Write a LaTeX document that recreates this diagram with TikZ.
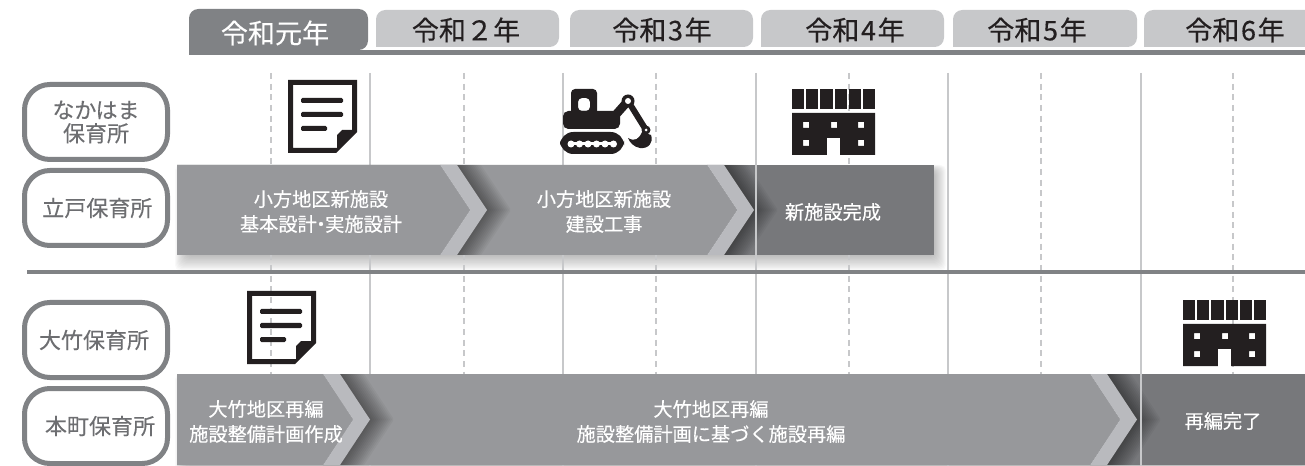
\documentclass[tikz,border=0pt]{standalone}
\usepackage{fontspec}
\setmainfont[FakeBold=0.25]{Noto Sans CJK JP}
\usetikzlibrary{positioning}
\definecolor{bandgray}{HTML}{808285}
\definecolor{tabgray}{HTML}{C7C8CA}
\definecolor{bargray}{HTML}{97989B}
\definecolor{headgray}{HTML}{B9BABE}
\definecolor{endgray}{HTML}{77787B}
\definecolor{labelgray}{HTML}{6D6E71}
\definecolor{icondark}{HTML}{231F20}
\newcommand{\barhead}[3]{%
    \begin{scope}
        \clip (#1,#2) rectangle (#1+70,#3);
        \foreach \i in {1,...,12}
            \fill[black,opacity=.04] (#1,#2) -- (#1+17+2*\i,#2) -- (#1+47+2*\i,{(#2+#3)/2}) -- (#1+17+2*\i,#3) -- (#1,#3) -- cycle;
    \end{scope}
    \fill[bargray] (177,#2) -- (#1,#2) -- (#1+30,{(#2+#3)/2}) -- (#1,#3) -- (177,#3) -- cycle;
    \fill[headgray] (#1,#2) -- (#1+17,#2) -- (#1+47,{(#2+#3)/2}) -- (#1+17,#3) -- (#1,#3) -- (#1+30,{(#2+#3)/2}) -- cycle;
}
\newcommand{\barshadow}[4]{%
    \foreach \i in {1,...,12}
        \fill[black,opacity=.022,rounded corners=4pt] (#1+10-\i,#2+6-\i/2) rectangle (#3+\i,#4+1.3*\i);
}
\tikzset{
    yeartab/.style={font=\fontsize{20.3}{24}\selectfont,text=icondark,inner sep=0pt},
    sitebox/.style={draw=bandgray,line width=3.75pt,rounded corners=19pt,fill=white,
        minimum width=107.25pt,minimum height=56.25pt,inner sep=0pt,align=center,
        text=labelgray,font=\fontsize{16.5}{17.5}\selectfont},
    bartext/.style={text=white,inner sep=0pt,align=center,font=\fontsize{14.4}{18.75}\selectfont},
    pics/docicon/.style={code={
        \fill[icondark,even odd rule] (0,0) -- (69,0) -- (69,52) -- (48,73) -- (0,73) -- cycle
            (5,5) -- (64,5) -- (64,50) -- (54,50) -- (49,55) -- (49,68) -- (5,68) -- cycle;
        \fill[icondark,rounded corners=1pt] (13,18) rectangle (55,23);
        \fill[icondark,rounded corners=1pt] (13,32) rectangle (55,37);
        \fill[icondark,rounded corners=1pt] (13,46) rectangle (39,51);
    }},
    pics/houseicon/.style={code={
        \foreach \n in {0,...,5}
            \fill[icondark] (14.2*\n,0) rectangle +(12.2,20);
        \fill[icondark,even odd rule] (0,24) rectangle (83,66)
            (11,33) rectangle (17,39) (39,33) rectangle (45,39) (66,33) rectangle (72,39)
            (11,51) rectangle (17,57) (66,51) rectangle (72,57);
        \fill[white] (35,49) rectangle (48,66.5);
    }},
    pics/diggericon/.style={code={
        \fill[icondark,even odd rule,rounded corners=3pt] (21,14) rectangle (47,45)
            (28,23) rectangle (40,36);
        \fill[icondark,rounded corners=4pt] (13,36) rectangle (70,54);
        \fill[icondark,rounded corners=10pt] (10,57) rectangle (74,79);
        \fill[white] (20,67.5) rectangle (64,70.5);
        \foreach \n in {21,29.5,38,46.5,55,63.5}
            \fill[white] (\n,69) circle (3.5);
        \draw[icondark,line width=6.5pt,line cap=round] (62,44) -- (78,26);
        \draw[icondark,line width=4.5pt,line cap=round] (78,26) -- (96,55);
        \fill[icondark] (78,26) circle (6.5);
        \fill[white] (78,26) circle (3);
        \fill[icondark] (96,55) circle (4.5);
        \fill[white] (96,55) circle (1.5);
        \fill[icondark] (78,63) .. controls (85,67) and (89,64) .. (92,57) -- (101,60)
            .. controls (104,68) and (98,74) .. (90,73) .. controls (84,72) and (80,68) .. (78,63) -- cycle;
    }}
}
\begin{document}
\begin{tikzpicture}[x=.75pt,y=-.75pt]
    \useasboundingbox (0,0) rectangle (1305,466);
    % year tabs
    \fill[tabgray,rounded corners=7pt] (376,47) -- (376,10) -- (559,10) -- (559,47) [sharp corners] -- cycle;
    \fill[tabgray,rounded corners=7pt] (570,47) -- (570,10) -- (753,10) -- (753,47) [sharp corners] -- cycle;
    \fill[tabgray,rounded corners=7pt] (761,47) -- (761,10) -- (944,10) -- (944,47) [sharp corners] -- cycle;
    \fill[tabgray,rounded corners=7pt] (953,47) -- (953,10) -- (1137,10) -- (1137,47) [sharp corners] -- cycle;
    \fill[tabgray,rounded corners=7pt] (1144,47) -- (1144,10) -- (1320,10) -- (1320,47) [sharp corners] -- cycle;
    \fill[bandgray,rounded corners=7pt] (189,50) -- (189,9) -- (368,9) -- (368,50) [sharp corners] -- cycle;
    \fill[bandgray] (189,50) rectangle (1305,55.5);
    \node[yeartab,text=white] (year1) at (275,33) {令和元年};
    \node[yeartab] (year2) at (466,30) {令和２年};
    \node[yeartab] (year3) at (662,30) {令和{\kern.06em}3{\kern.06em}年};
    \node[yeartab] (year4) at (855,30) {令和{\kern.06em}4{\kern.06em}年};
    \node[yeartab] (year5) at (1037,30) {令和{\kern.06em}5{\kern.06em}年};
    \node[yeartab] (year6) at (1235,30) {令和{\kern.06em}6{\kern.06em}年};

    % shadows under the bars
    \barshadow{177}{165}{934}{255}
    \barshadow{177}{374}{1305}{465}

    % grid
    \foreach \x in {370,563,756,948,1141}
        \draw[tabgray,line width=1.3pt] (\x,73) -- (\x,466);
    \foreach \x in {271,464,656,849,1041,1233}
        \draw[tabgray,line width=1.2pt,dash pattern=on 4.5pt off 3.5pt] (\x,73) -- (\x,466);
    \fill[bandgray] (27,270.5) rectangle (1305,274);

    % site labels
    \node[sitebox] (nakahama) at (96,122) {なかはま\\保育所};
    \node[sitebox,below=4.5pt of nakahama] (tatedo) {{\kern2pt}立戸保育所};
    \node[sitebox] (otake) at (96,340) {大竹保育所{\kern3pt}};
    \node[sitebox,below=4.5pt of otake] (honmachi) {{\kern6pt}本町保育所};

    % upper bar
    \fill[bargray] (177,165) rectangle (707,255);
    \fill[endgray] (707,165) rectangle (934,255);
    \barhead{707}{165}{255}
    \barhead{440}{165}{255}
    \draw[tabgray,line width=1.1pt] (756,165) -- (756,255);
    \node[bartext] (design) at (321,211.5) {小方地区新施設\\基本設計{\kern-.28em・\kern-.28em}実施設計};
    \node[bartext] (build) at (604,211.5) {小方地区新施設\\建設工事};
    \node[bartext] (done) at (833,212) {新施設完成};

    % lower bar
    \fill[bargray] (177,374) rectangle (1090,465);
    \fill[endgray] (1090,374) rectangle (1305,465);
    \barhead{1090}{374}{465}
    \barhead{323}{374}{465}
    \draw[tabgray,line width=1.1pt] (1141,374) -- (1141,465);
    \node[bartext] (plan) at (266,421.5) {大竹地区再編\\施設整備計画作成};
    \node[bartext] (rebuild) at (711,421.5) {大竹地区再編\\施設整備計画に基づく施設再編};
    \node[bartext] (finish) at (1223,421) {再編完了};

    % icons
    \pic (doc1) at (288,80) {docicon};
    \pic (digger) at (550,75) {diggericon};
    \pic (house1) at (792,89) {houseicon};
    \pic (doc2) at (247,291) {docicon};
    \pic (house2) at (1183,300) {houseicon};
\end{tikzpicture}
\end{document}
